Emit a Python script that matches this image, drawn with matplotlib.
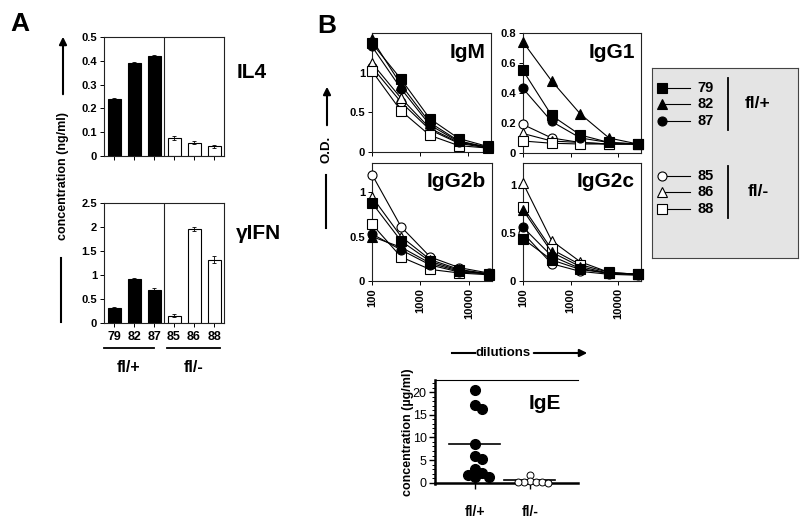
import matplotlib.pyplot as plt
import numpy as np
from matplotlib.patches import FancyArrowPatch
from matplotlib.ticker import FuncFormatter, NullLocator, MultipleLocator

plt.rcParams['font.family'] = ['Liberation Sans', 'DejaVu Sans']
plt.rcParams['font.weight'] = 'bold'

W, H = 800, 525

# ---- data -------------------------------------------------------------
mice = ['79', '82', '87', '85', '86', '88']
groups = ['fl/+', 'fl/-']

il4 = [0.24, 0.39, 0.42, 0.075, 0.055, 0.04]
il4_err = [0.005, 0.005, 0.005, 0.008, 0.006, 0.006]
ifn = [0.32, 0.91, 0.69, 0.15, 1.95, 1.32]
ifn_err = [0.02, 0.03, 0.03, 0.03, 0.04, 0.07]

dilutions = [100, 400, 1600, 6400, 25600]
# one row per mouse, same order as `mice`
igm = [[1.37, 0.92, 0.42, 0.17, 0.07],
       [1.42, 0.85, 0.37, 0.14, 0.06],
       [1.33, 0.80, 0.34, 0.13, 0.06],
       [1.07, 0.63, 0.28, 0.11, 0.05],
       [1.12, 0.68, 0.30, 0.12, 0.06],
       [1.02, 0.52, 0.21, 0.08, 0.05]]
igg1 = [[0.55, 0.25, 0.12, 0.07, 0.06],
        [0.74, 0.48, 0.26, 0.10, 0.06],
        [0.43, 0.21, 0.10, 0.07, 0.06],
        [0.19, 0.10, 0.07, 0.06, 0.06],
        [0.13, 0.08, 0.07, 0.06, 0.06],
        [0.08, 0.065, 0.06, 0.06, 0.06]]
igg2b = [[0.88, 0.45, 0.22, 0.12, 0.08],
         [0.50, 0.38, 0.20, 0.11, 0.08],
         [0.53, 0.35, 0.18, 0.10, 0.08],
         [1.20, 0.61, 0.27, 0.15, 0.09],
         [0.95, 0.50, 0.24, 0.13, 0.08],
         [0.64, 0.27, 0.13, 0.09, 0.07]]
igg2c = [[0.44, 0.22, 0.12, 0.08, 0.07],
         [0.74, 0.30, 0.15, 0.08, 0.07],
         [0.56, 0.26, 0.13, 0.08, 0.07],
         [0.50, 0.18, 0.10, 0.07, 0.06],
         [1.02, 0.42, 0.20, 0.09, 0.07],
         [0.77, 0.33, 0.17, 0.09, 0.07]]

ige_flp = [20.5, 17.2, 16.3, 8.5, 6.0, 5.3, 3.0, 2.2, 1.8, 1.3, 1.2]
ige_flm = [1.7, 0.3, 0.15, 0.1, 0.05, 0.05, 0.0]
ige_lines = [8.5, 0.5]

# ---- styles -----------------------------------------------------------
markers = ['s', '^', 'o', 'o', '^', 's']
faces = ['black', 'black', 'black', 'white', 'white', 'white']
SPINE = '#222222'

fig = plt.figure(figsize=(8, 5.25), dpi=100)


def P(x, y):
    return (x / W, 1 - y / H)


def add_ax(x0, y0, x1, y1):
    return fig.add_axes([x0 / W, 1 - y1 / H, (x1 - x0) / W, (y1 - y0) / H])


def fmt(v, pos):
    return '%g' % v


def arrow(p0, p1):
    fig.add_artist(FancyArrowPatch(P(*p0), P(*p1), transform=fig.transFigure,
                                   arrowstyle='-|>', mutation_scale=11,
                                   lw=1.5, color='black'))


def line(p0, p1, lw=1.5):
    fig.add_artist(plt.Line2D([p0[0] / W, p1[0] / W],
                              [1 - p0[1] / H, 1 - p1[1] / H],
                              transform=fig.transFigure, lw=lw, color='black'))


# ---- panel A: bars ----------------------------------------------------
def bar_panel(ax, vals, errs, ymax, step, labels):
    x = np.arange(len(vals))
    ax.bar(x, vals, width=0.65, color=faces, edgecolor='black', lw=0.8,
           yerr=errs, capsize=1.5,
           error_kw=dict(elinewidth=0.6, capthick=0.6, ecolor='black'))
    ax.axvline(2.5, color=SPINE, lw=0.8)
    ax.set_xlim(-0.5, 5.5)
    ax.set_ylim(0, ymax)
    ax.yaxis.set_major_locator(MultipleLocator(step))
    ax.yaxis.set_major_formatter(FuncFormatter(fmt))
    ax.set_xticks(x)
    ax.set_xticklabels(mice if labels else [])
    ax.tick_params(axis='both', labelsize=8, length=3, width=0.7,
                   colors='black', pad=2)
    ax.tick_params(axis='x', labelsize=9, pad=3)
    for s in ax.spines.values():
        s.set_color(SPINE)
        s.set_linewidth(0.8)


ax_il4 = add_ax(104, 37, 224, 156)
bar_panel(ax_il4, il4, il4_err, 0.5, 0.1, False)
ax_ifn = add_ax(104, 203, 224, 323)
bar_panel(ax_ifn, ifn, ifn_err, 2.5, 0.5, True)

fig.text(*P(252, 73), 'IL4', fontsize=15, ha='center', va='center')
fig.text(*P(258, 233), 'γIFN', fontsize=15, ha='center', va='center')

# group underlines and labels below the bars
for gi, g in enumerate(groups):
    x0 = 104 + gi * 63
    x1 = x0 + 50 + gi * 3
    line((x0, 348), (x1, 348), lw=1.3)
    fig.text(*P((x0 + x1) / 2, 368), g, fontsize=11.5, ha='center',
             va='center')

fig.text(*P(20, 24), 'A', fontsize=19, ha='center', va='center')
fig.text(*P(63, 176), 'concentration (ng/ml)', fontsize=9, rotation=90,
         ha='center', va='center')
arrow((63, 97), (63, 34))
line((61, 258), (61, 322))

# ---- panel B: titration curves ----------------------------------------
curve_sets = [('IgM', igm, 1.5, [0, 0.5, 1], (372, 33, 491, 152), False),
              ('IgG1', igg1, 0.8, [0, 0.2, 0.4, 0.6, 0.8], (523, 33, 641, 153), False),
              ('IgG2b', igg2b, 1.33, [0, 0.5, 1], (372, 163, 492, 281), True),
              ('IgG2c', igg2c, 1.23, [0, 0.5, 1], (523, 163, 641, 281), True)]

for name, data, ymax, yt, box, xlab in curve_sets:
    ax = add_ax(*box)
    for i in range(len(mice)):
        ax.plot(dilutions, data[i], color='black', lw=0.8, marker=markers[i],
                markerfacecolor=faces[i], markeredgecolor='black',
                markersize=6.5, markeredgewidth=0.8, clip_on=False,
                zorder=3 + (i < 3))
    ax.set_xscale('log')
    ax.set_xlim(100, 30000)
    ax.set_ylim(0, ymax)
    ax.set_yticks(yt)
    ax.yaxis.set_major_formatter(FuncFormatter(fmt))
    ax.set_xticks([100, 1000, 10000])
    ax.xaxis.set_minor_locator(NullLocator())
    if xlab:
        ax.set_xticklabels(['100', '1000', '10000'], rotation=90)
    else:
        ax.set_xticklabels([])
    ax.tick_params(axis='both', labelsize=8, length=3, width=0.7, pad=2)
    for s in ax.spines.values():
        s.set_color(SPINE)
        s.set_linewidth(0.8)
    ax.text(0.95, 0.84, name, transform=ax.transAxes, fontsize=15,
            ha='right', va='center')

fig.text(*P(327, 26), 'B', fontsize=19, ha='center', va='center')
fig.text(*P(327, 149), 'O.D.', fontsize=9.5, rotation=90, ha='center',
         va='center')
arrow((327, 128), (327, 84))
line((326, 175), (326, 228))

line((452, 353), (475, 353))
fig.text(*P(503, 353), 'dilutions', fontsize=9.5, ha='center', va='center')
arrow((531, 353), (590, 353))

# ---- legend -----------------------------------------------------------
lax = add_ax(652, 68, 798, 258)
lax.set_xlim(652, 798)
lax.set_ylim(258, 68)
lax.set_facecolor('#e4e4e4')
lax.set_xticks([])
lax.set_yticks([])
for s in lax.spines.values():
    s.set_color('#444444')
    s.set_linewidth(0.8)
for i in range(len(mice)):
    g = i // 3
    y = 88 + 16.5 * (i % 3) + 88 * g
    lax.plot([662, 690], [y, y], color='black', lw=0.8, marker=markers[i],
             markevery=[0], markersize=6.5, markerfacecolor=faces[i],
             markeredgecolor='black', markeredgewidth=0.8)
    lax.text(697, y, mice[i], fontsize=10.5, ha='left', va='center')
for g in range(2):
    y0 = 78 + 88 * g
    lax.plot([728, 728], [y0, y0 + 52], color='black', lw=1.3)
    lax.text(758, y0 + 26, groups[g], fontsize=12.5, ha='center',
             va='center')

# ---- IgE dot plot -----------------------------------------------------
ax_e = add_ax(435, 380, 578, 484)
ax_e.set_xlim(-0.73, 1.87)
ax_e.set_ylim(-0.3, 22.7)


def swarm(vals, center, d_px, step_px):
    # simple beeswarm: push dots sideways until they overlap only a little
    sx, sy = 55.0, 104 / 23.0
    placed = []
    xs = []
    for v in vals:
        for k in [0, 1, -1, 2, -2, 3, -3]:
            x = center + k * step_px / sx
            ok = all(np.hypot((x - px) * sx, (v - py) * sy) >= d_px
                     for px, py in placed)
            if ok:
                break
        placed.append((x, v))
        xs.append(x)
    return xs


x_flp = swarm(ige_flp, 0, 7, 7)
x_flm = swarm(ige_flm, 1, 6, 6)
ax_e.plot(x_flp, ige_flp, 'o', color='black', markersize=7, clip_on=False,
          zorder=3)
ax_e.plot(x_flm, ige_flm, 'o', markerfacecolor='white', markeredgecolor='black',
          markersize=5, markeredgewidth=0.7, clip_on=False, zorder=3)
for gi, v in enumerate(ige_lines):
    ax_e.plot([gi - 0.48, gi + 0.45], [v, v], color='black', lw=1.2)

ax_e.set_xticks([0, 1])
ax_e.set_xticklabels(groups, fontsize=10.5)
ax_e.set_yticks([0, 5, 10, 15, 20])
ax_e.yaxis.set_minor_locator(MultipleLocator(1))
ax_e.tick_params(axis='y', labelsize=9, length=4, width=1, pad=2)
ax_e.tick_params(axis='y', which='minor', length=2, width=0.7)
ax_e.tick_params(axis='x', length=4, width=1, pad=12)
for lab in ax_e.get_yticklabels():
    lab.set_fontweight('normal')
ax_e.spines['left'].set_linewidth(1.8)
ax_e.spines['bottom'].set_linewidth(1.8)
ax_e.spines['bottom'].set_position(('data', 0))
ax_e.spines['top'].set_linewidth(0.8)
ax_e.spines['right'].set_visible(False)
ax_e.text(0.77, 0.77, 'IgE', transform=ax_e.transAxes, fontsize=15,
          ha='center', va='center')
fig.text(*P(408, 432), 'concentration (µg/ml)', fontsize=9, rotation=90,
         ha='center', va='center')

fig.savefig('out.png', dpi=100)
